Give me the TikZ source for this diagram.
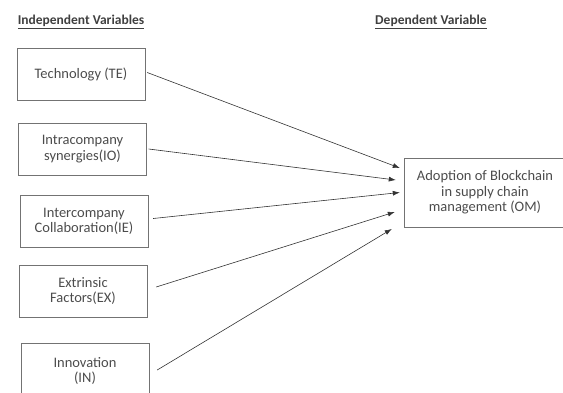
\documentclass[tikz,border=0pt]{standalone}
\usepackage{fontspec}
\setmainfont{Carlito}
\usetikzlibrary{arrows.meta,positioning}

\begin{document}
\begin{tikzpicture}[x=1pt,y=-1pt,
  var/.style={draw=black!55, rectangle, minimum width=128pt, minimum height=52pt, align=center, font=\fontsize{14.5}{15.5}\selectfont, text=black!70},
  hdr/.style={font=\bfseries\fontsize{13.5}{15}\selectfont, text=black!75},
  arr/.style={-{Latex[length=7pt,width=5pt]}, draw=black!80, semithick}]
\useasboundingbox (0,0) rectangle (563,392);
\clip (0,0) rectangle (563,392);
\node[hdr] (hi) at (81,22) {\underline{Independent Variables}};
\node[hdr] (hd) at (431,22) {\underline{Dependent Variable}};
\node[var] (te) at (81,74.5) {Technology (TE)};
\node[var] (io) at (82.5,149) {Intracompany\\synergies(IO)};
\node[var] (ie) at (84,221.5) {Intercompany\\Collaboration(IE)};
\node[var] (ex) at (83,291) {Extrinsic\\Factors(EX)};
\node[var, minimum height=56pt] (inn) at (85,371) {Innovation\\(IN)};
\node[var, minimum width=162pt, minimum height=69pt] (om) at (485,192.5) {Adoption of Blockchain\\in supply chain\\management (OM)};
\draw[arr] ([xshift=2pt,yshift=2pt]te.east) -- ([xshift=-4pt,yshift=24.5pt]om.west);
\draw[arr] ([xshift=2pt]io.east) -- ([xshift=-8pt,yshift=12.5pt]om.west);
\draw[arr] ([xshift=5pt,yshift=3pt]ie.east) -- ([xshift=-4pt]om.west);
\draw[arr] ([xshift=9pt,yshift=4pt]ex.east) -- ([xshift=-9pt,yshift=-19.5pt]om.west);
\draw[arr] ([xshift=8pt,yshift=1pt]inn.east) -- ([xshift=-12pt,yshift=-36.5pt]om.west);
\end{tikzpicture}
\end{document}
